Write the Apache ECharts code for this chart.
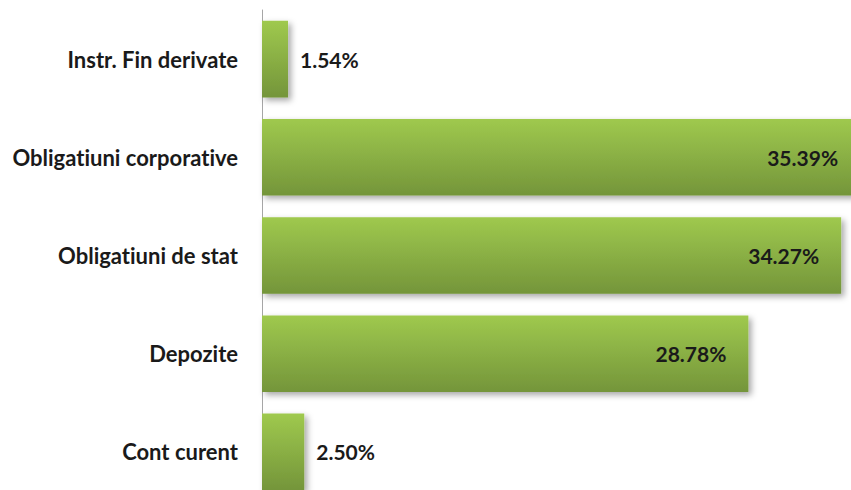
<!DOCTYPE html>
<html>
<head>
<meta charset="utf-8">
<script src="https://cdn.jsdelivr.net/npm/echarts@6/dist/echarts.min.js"></script>
<style>
  html, body { margin: 0; padding: 0; background: #fff; }
  #chart { width: 851px; height: 490px; font-variant-ligatures: none; }
  #chart text { font-variant-ligatures: none; }
</style>
</head>
<body>
<div id="chart"></div>
<script>
// categories, top to bottom
const categories = [
  "Instr. Fin derivate",
  "Obligatiuni corporative",
  "Obligatiuni de stat",
  "Depozite",
  "Cont curent",
];
// share of portfolio, %
const shares = [1.54, 35.39, 34.27, 28.78, 2.5];

// svg renderer so the css above can switch off the "ti" ligature
const chart = echarts.init(document.getElementById("chart"), null, {
  renderer: "svg",
});

const barColor = new echarts.graphic.LinearGradient(0, 0, 0, 1, [
  { offset: 0, color: "#9fc94e" },
  { offset: 1, color: "#74953a" },
]);

const option = {
  backgroundColor: "#fff",
  animation: false,
  grid: {
    left: 262,
    top: 10,
    width: 676,
    height: 491,
    outerBoundsMode: "none",
    containLabel: false,
  },
  xAxis: {
    type: "value",
    min: 0,
    max: 40,
    show: false,
  },
  yAxis: {
    type: "category",
    data: categories,
    inverse: true,
    axisLine: { show: true, lineStyle: { color: "#a6a6a6", width: 1 } },
    axisTick: { show: false },
    splitLine: { show: false },
    axisLabel: {
      margin: 24,
      color: "#1a1a1a",
      fontFamily: "Lato",
      fontWeight: "bold",
      fontSize: 22,
    },
  },
  series: [
    {
      type: "bar",
      barCategoryGap: "22%",
      data: shares.map((v) => ({
        value: v,
        label:
          v > 10
            ? { position: "insideRight", distance: 22 }
            : { position: "right", distance: 12 },
      })),
      itemStyle: {
        color: barColor,
        shadowColor: "rgba(0,0,0,0.35)",
        shadowBlur: 6,
        shadowOffsetX: 3,
        shadowOffsetY: 3,
      },
      label: {
        show: true,
        color: "#1a1a1a",
        fontFamily: "Lato",
        fontWeight: "bold",
        fontSize: 21,
        formatter: (p) => p.value.toFixed(2) + "%",
      },
    },
  ],
};

chart.setOption(option);
</script>
</body>
</html>
